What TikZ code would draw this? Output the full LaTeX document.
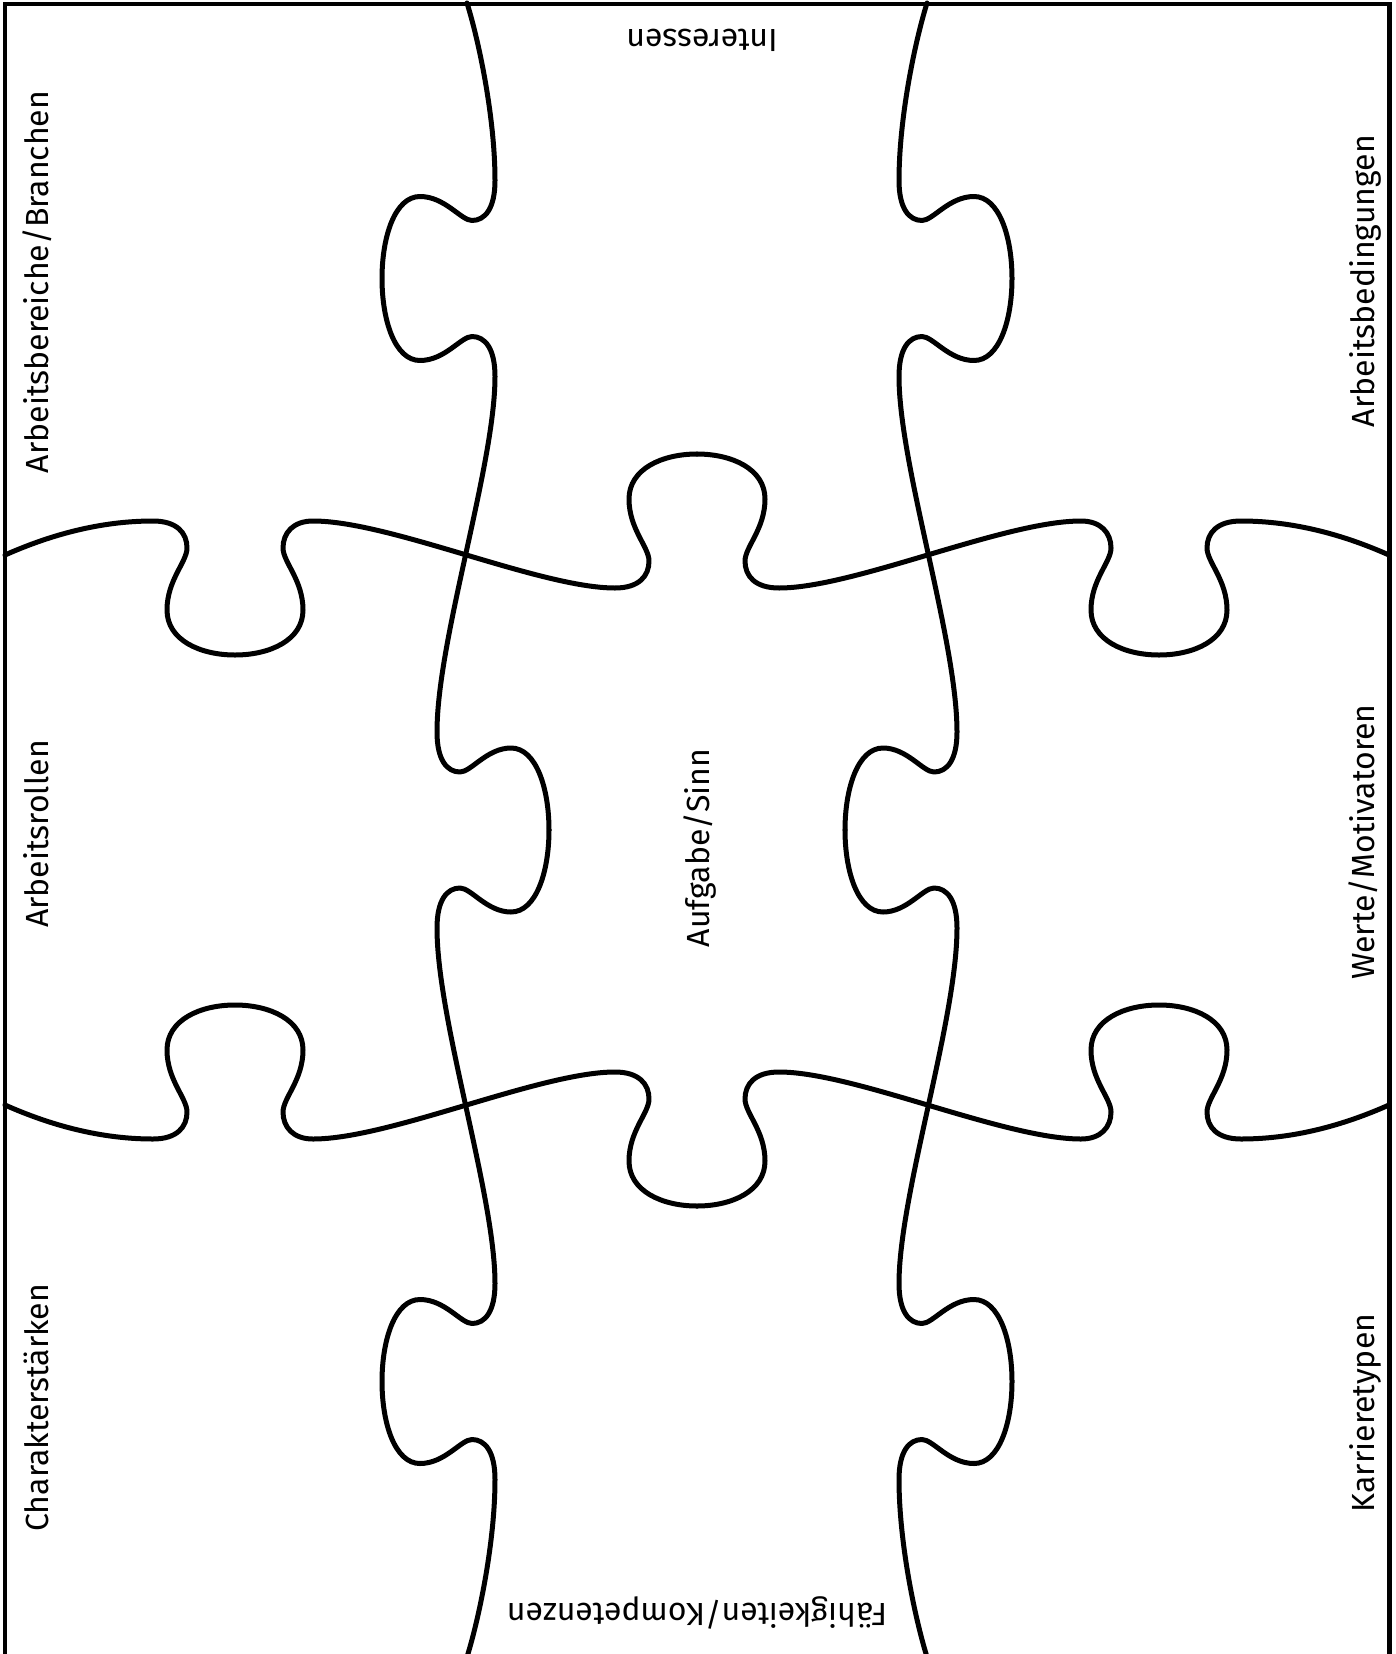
\documentclass[tikz,border=0pt]{standalone}
\usepackage{fontspec}
\setmainfont{Fira Sans}
\tikzset{
  seam/.style={line width=5pt, line cap=round, line join=round},
  frameline/.style={line width=4.5pt},
  lbl/.style={anchor=base, inner sep=0pt, font=\fontsize{32}{38}\selectfont}
}
\newcommand\puzquarter{%
  \draw[seam] (467,3) .. controls (480,45) and (495,120) .. (495,180.5)
    .. controls (495,208.5) and (485,220.5) .. (472,220.5)
    .. controls (461,220.5) and (445,196.5) .. (420,196.5)
    .. controls (395,196.5) and (382,236.5) .. (382,278.5)
    .. controls (382,320.5) and (395,360.5) .. (420,360.5)
    .. controls (445,360.5) and (461,336.5) .. (472,336.5)
    .. controls (485,336.5) and (495,348.5) .. (495,376.5)
    .. controls (495,465) and (437,640) .. (437,732)
    .. controls (437,760) and (447,772) .. (460,772)
    .. controls (471,772) and (487,748) .. (511,748)
    .. controls (536,748) and (549,788) .. (549,830);
  \draw[seam] (5,555) .. controls (50,535) and (100,521) .. (153,521)
    .. controls (177,521) and (187,533) .. (187,548)
    .. controls (187,562) and (167,580) .. (167,610)
    .. controls (167,640) and (200,655) .. (235,655)
    .. controls (270,655) and (303,640) .. (303,610)
    .. controls (303,580) and (283,562) .. (283,548)
    .. controls (283,533) and (293,521) .. (313,521)
    .. controls (390,521) and (540,588) .. (615,588)
    .. controls (639,588) and (649,576) .. (649,561)
    .. controls (649,547) and (629,529) .. (629,499)
    .. controls (629,469) and (662,454) .. (697,454);
}
\begin{document}
\begin{tikzpicture}[x=1pt, y=-1pt]
  \useasboundingbox (0,0) rectangle (1396,1654);
  \clip (0,0) rectangle (1396,1654);
  \fill[white] (0,0) rectangle (1396,1654);
  \coordinate (fbl) at (5,1660);
  \coordinate (ftl) at (5,4);
  \coordinate (ftr) at (1389.5,4);
  \coordinate (fbr) at (1389.5,1660);
  \draw[frameline] (fbl) -- (ftl) -- (ftr) -- (fbr);
  \puzquarter
  \begin{scope}[shift={(697,830)}, xscale=-1, shift={(-697,-830)}]\puzquarter\end{scope}
  \begin{scope}[shift={(697,830)}, yscale=-1, shift={(-697,-830)}]\puzquarter\end{scope}
  \begin{scope}[shift={(697,830)}, scale=-1, shift={(-697,-830)}]\puzquarter\end{scope}
  \node[lbl, rotate=180] (interessen) at (702,30) {Interessen};
  \node[lbl, rotate=180] (faehig) at (697,1603) {Fähigkeiten/Kompetenzen};
  \node[lbl, rotate=90] (branchen) at (48,282) {Arbeitsbereiche/Branchen};
  \node[lbl, rotate=90] (rollen) at (48,834) {Arbeitsrollen};
  \node[lbl, rotate=90] (charakter) at (48,1408) {Charakterstärken};
  \node[lbl, rotate=90] (bedingungen) at (1374,281) {Arbeitsbedingungen};
  \node[lbl, rotate=90] (werte) at (1374,842) {Werte/Motivatoren};
  \node[lbl, rotate=90] (karriere) at (1374,1413) {Karrieretypen};
  \node[lbl, rotate=90] (aufgabe) at (709,848) {Aufgabe/Sinn};
\end{tikzpicture}
\end{document}
